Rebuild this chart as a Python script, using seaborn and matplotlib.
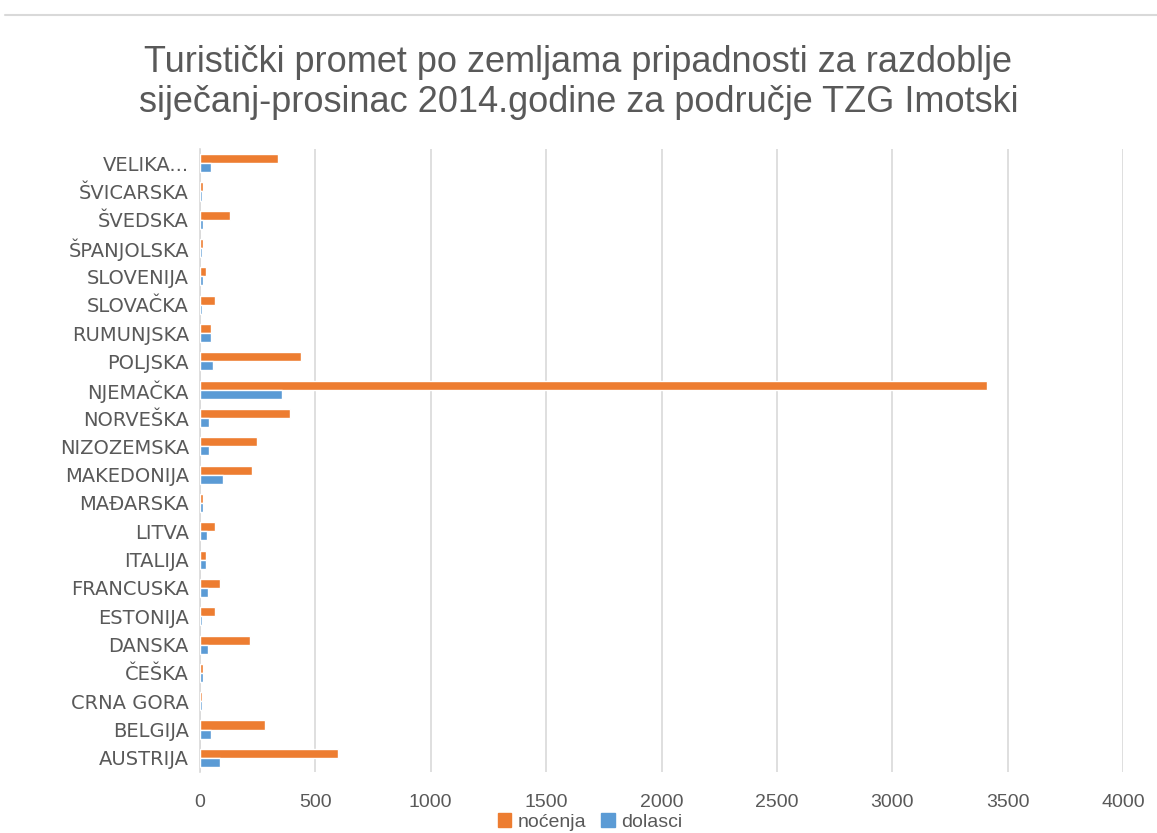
import matplotlib
matplotlib.use("Agg")
import matplotlib.pyplot as plt
import seaborn as sns
import pandas as pd
from matplotlib.lines import Line2D

countries = ["VELIKA...", "ŠVICARSKA", "ŠVEDSKA", "ŠPANJOLSKA", "SLOVENIJA", "SLOVAČKA",
             "RUMUNJSKA", "POLJSKA", "NJEMAČKA", "NORVEŠKA", "NIZOZEMSKA", "MAKEDONIJA",
             "MAĐARSKA", "LITVA", "ITALIJA", "FRANCUSKA", "ESTONIJA", "DANSKA", "ČEŠKA",
             "CRNA GORA", "BELGIJA", "AUSTRIJA"]
nocenja = [338, 12, 130, 12, 25, 65, 48, 437, 3412, 390, 247, 225,
           15, 65, 25, 87, 65, 217, 15, 10, 282, 598]
dolasci = [48, 8, 15, 8, 15, 8, 48, 55, 355, 39, 39, 100,
           15, 30, 25, 33, 8, 33, 15, 10, 48, 87]
series = ["noćenja", "dolasci"]
colors = ["#ED7D31", "#5B9BD5"]
xticks = [0, 500, 1000, 1500, 2000, 2500, 3000, 3500, 4000]

df = pd.DataFrame({
    "country": countries * 2,
    "value": nocenja + dolasci,
    "series": [series[0]] * len(countries) + [series[1]] * len(countries),
})

sns.set_theme(style="white")
plt.rcParams['font.family'] = ['Liberation Sans', 'DejaVu Sans']

fig = plt.figure(figsize=(11.57, 8.33), dpi=100)
ax = fig.add_axes([200/1157, 1-772/833, (1123-200)/1157, (772-149)/833])

sns.barplot(data=df, y="country", x="value", hue="series", order=countries,
            hue_order=series, palette=colors, orient="h", width=0.64,
            dodge=True, ax=ax, legend=False, saturation=1)

ax.set_xlim(0, 4000)
ax.set_xticks(xticks)
ax.set_xticklabels([str(t) for t in xticks])
ax.set_yticks(range(len(countries)))
ax.set_yticklabels(countries, fontfamily="DejaVu Sans", fontsize=14)
ax.xaxis.grid(True, color="#D9D9D9", linewidth=1.2)
ax.set_axisbelow(True)
for s in ["top", "right", "bottom"]:
    ax.spines[s].set_visible(False)
ax.spines["left"].set_color("#D9D9D9")
ax.spines["left"].set_linewidth(1.2)
ax.spines["left"].set_zorder(0)
ax.set_xlabel("")
ax.set_ylabel("")
ax.tick_params(axis="x", colors="#595959", labelsize=14, length=0, pad=16)
ax.tick_params(axis="y", colors="#595959", length=0, pad=8)

fig.text(0.5, 1-62/833, "Turistički promet po zemljama pripadnosti za razdoblje",
         ha="center", va="center", fontsize=26, color="#595959")
fig.text(0.5, 1-103/833, "siječanj-prosinac 2014.godine za područje TZG Imotski",
         ha="center", va="center", fontsize=26, color="#595959")

fig.add_artist(Line2D([5/1157, 1], [1-15/833, 1-15/833], color="#D9D9D9", linewidth=1.5,
                      transform=fig.transFigure))

handles = [plt.Rectangle((0, 0), 1, 1, color=c) for c in colors]
fig.legend(handles, series, loc="center", bbox_to_anchor=(590/1157, 1-822/833), ncol=2,
           frameon=False, fontsize=14, handlelength=0.7, handleheight=0.7,
           handletextpad=0.3, columnspacing=0.8, labelcolor="#595959",
           borderpad=0.1)

fig.savefig("out.png", dpi=100)
